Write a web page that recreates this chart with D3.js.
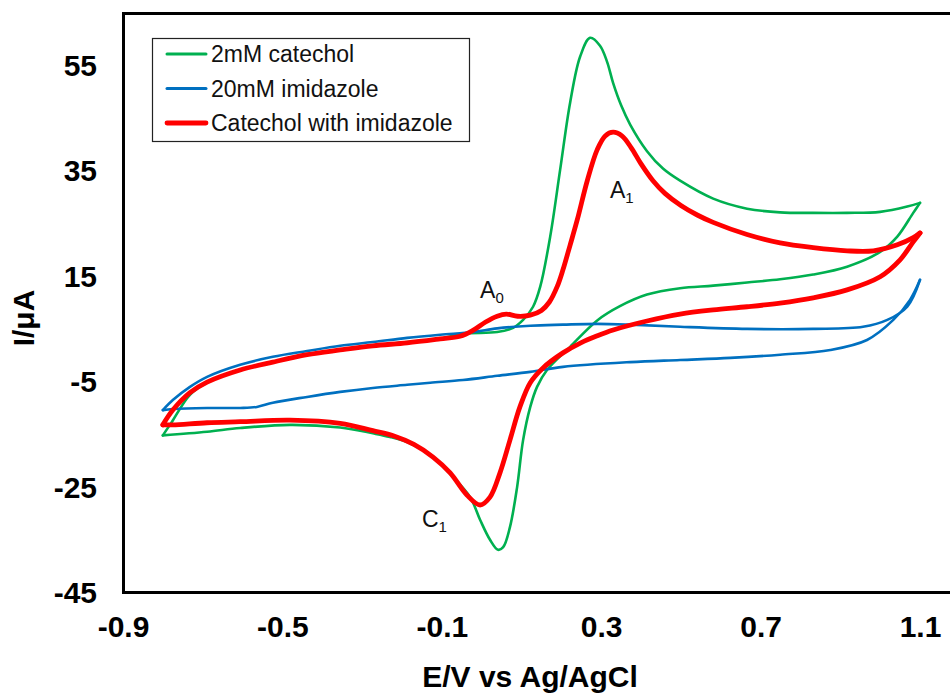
<!DOCTYPE html>
<html>
<head>
<meta charset="utf-8">
<style>
    body { margin: 0; background: #fff; }
    text { font-family: Arial, "Liberation Sans", sans-serif; }
    .tick text { font-weight: bold; font-size: 30px; fill: #000; }
    .lbl { font-size: 23px; fill: #111; }
</style>
</head>
<body>
<svg id="chart" width="950" height="695"></svg>
<script src="https://d3js.org/d3.v7.min.js"></script>
<script>
    // cyclic voltammograms, [E (V), I (uA)], split at the switching potentials
    var catecholFwd = [
        [-0.80, -15.3], [-0.777, -12.7], [-0.732, -7.6], [-0.689, -5.3], [-0.606, -2.9], [-0.524, -1.4],
        [-0.438, 0.0], [-0.355, 0.9], [-0.273, 1.7], [-0.187, 2.4], [-0.104, 3.0], [-0.047, 4.0],
        [0.039, 4.3], [0.079, 5.1], [0.104, 6.6], [0.129, 9.1], [0.147, 12.9], [0.172, 22.4],
        [0.197, 35.1], [0.222, 47.8], [0.247, 56.5], [0.272, 60.1], [0.297, 58.6], [0.315, 55.5],
        [0.330, 51.5], [0.350, 47.3], [0.373, 43.6], [0.415, 38.6], [0.455, 35.3], [0.498, 33.0],
        [0.581, 29.6], [0.666, 27.7], [0.749, 27.0], [0.832, 26.9], [0.917, 26.9], [1.000, 27.1],
        [1.068, 28.1], [1.10, 28.8]
    ];
    var catecholRev = [
        [1.10, 28.8], [1.083, 26.9], [1.043, 22.4], [1.000, 19.5], [0.917, 16.7], [0.832, 15.2],
        [0.749, 14.3], [0.666, 13.7], [0.581, 13.1], [0.498, 12.6], [0.415, 11.4], [0.347, 9.2],
        [0.290, 6.5], [0.222, 1.5], [0.164, -2.9], [0.139, -6.1], [0.122, -9.9], [0.104, -16.2],
        [0.089, -25.1], [0.071, -32.7], [0.054, -36.5], [0.041, -37.0], [0.021, -35.1], [-0.004, -31.3],
        [-0.029, -27.0], [-0.079, -22.6], [-0.129, -19.0], [-0.180, -16.8], [-0.230, -15.6],
        [-0.273, -14.9], [-0.355, -13.8], [-0.481, -13.3], [-0.606, -13.9], [-0.689, -14.6], [-0.80, -15.3]
    ];
    var imidazoleFwd = [
        [-0.80, -10.5], [-0.775, -8.6], [-0.732, -6.1], [-0.689, -4.2], [-0.606, -1.9], [-0.524, -0.4],
        [-0.438, 0.7], [-0.355, 1.7], [-0.273, 2.4], [-0.187, 3.2], [-0.104, 3.8], [-0.022, 4.3],
        [0.039, 5.0], [0.122, 5.5], [0.204, 5.7], [0.290, 5.85], [0.373, 5.7], [0.498, 5.3],
        [0.666, 4.9], [0.832, 4.9], [0.957, 5.3], [1.018, 6.6], [1.068, 9.1], [1.10, 14.2]
    ];
    var imidazoleRev = [
        [1.10, 14.2], [1.075, 10.4], [1.033, 6.6], [0.967, 2.8], [0.875, 0.9], [0.749, 0.0],
        [0.624, -0.6], [0.498, -1.0], [0.373, -1.4], [0.204, -2.3], [0.122, -3.25], [0.039, -4.0],
        [-0.047, -4.8], [-0.129, -5.3], [-0.187, -5.7], [-0.273, -6.3], [-0.355, -7.05], [-0.438, -8.0],
        [-0.524, -9.1], [-0.564, -9.9], [-0.606, -10.1], [-0.689, -10.1], [-0.775, -10.3], [-0.80, -10.5]
    ];
    var mixFwd = [
        [-0.80, -13.3], [-0.775, -10.5], [-0.732, -7.2], [-0.689, -5.2], [-0.606, -2.9], [-0.524, -1.4],
        [-0.438, 0.0], [-0.355, 0.9], [-0.273, 1.7], [-0.187, 2.25], [-0.104, 3.0], [-0.054, 3.5],
        [-0.022, 4.6], [0.010, 6.2], [0.039, 7.3], [0.062, 7.7], [0.090, 7.3], [0.122, 7.5],
        [0.150, 8.4], [0.170, 10.0], [0.190, 13.0], [0.204, 16.1], [0.222, 20.8], [0.240, 25.6],
        [0.265, 33.0], [0.290, 38.9], [0.310, 41.5], [0.330, 42.2], [0.352, 41.5], [0.375, 39.3],
        [0.400, 36.2], [0.430, 33.0], [0.460, 30.6], [0.500, 28.3], [0.541, 26.5], [0.581, 25.1],
        [0.666, 22.8], [0.749, 21.2], [0.832, 20.3], [0.917, 19.7], [0.983, 19.7], [1.043, 20.85],
        [1.083, 22.2], [1.10, 23.1]
    ];
    var mixRev = [
        [1.10, 23.1], [1.083, 21.4], [1.050, 18.0], [1.000, 14.8], [0.917, 12.3], [0.832, 10.8],
        [0.749, 9.8], [0.666, 9.1], [0.581, 8.5], [0.498, 7.7], [0.415, 6.4], [0.330, 4.7],
        [0.290, 3.6], [0.250, 2.3], [0.204, 0.35], [0.154, -2.5], [0.122, -5.3], [0.096, -9.9],
        [0.071, -16.2], [0.046, -22.4], [0.021, -27.0], [-0.004, -28.5], [-0.037, -26.6],
        [-0.079, -22.4], [-0.122, -19.4], [-0.170, -17.0], [-0.220, -15.4], [-0.273, -14.4],
        [-0.355, -13.0], [-0.481, -12.4], [-0.606, -12.7], [-0.689, -12.9], [-0.775, -13.3], [-0.80, -13.3]
    ];

    var xTicks = [-0.9, -0.5, -0.1, 0.3, 0.7, 1.1];
    var yTicks = [-45, -25, -5, 15, 35, 55];

    var seriesNames = ["2mM catechol", "20mM imidazole", "Catechol with imidazole"];
    var seriesColors = ["#00b050", "#0070c0", "#ff0000"];
    var seriesWidths = [2.6, 2.6, 4.8];
    var seriesData = [[catecholFwd, catecholRev], [imidazoleFwd, imidazoleRev], [mixFwd, mixRev]];

    var peakLabels = [
        { main: "A", sub: "1", x: 0.322, y: 29.8 },
        { main: "A", sub: "0", x: -0.004, y: 10.8 },
        { main: "C", sub: "1", x: -0.150, y: -32.7 }
    ];

    var svg = d3.select("#chart");

    var x = d3.scaleLinear().domain([-0.9, 1.1]).range([123, 920]);
    var y = d3.scaleLinear().domain([-45, 65]).range([592, 12]);

    var line = d3.line()
        .x(function (d) { return x(d[0]); })
        .y(function (d) { return y(d[1]); })
        .curve(d3.curveCatmullRom.alpha(0.5));

    // plot frame (right side runs off the picture)
    svg.append("rect")
        .attr("x", 123.5).attr("y", 13.5)
        .attr("width", 900).attr("height", 579)
        .attr("fill", "none")
        .attr("stroke", "#000")
        .attr("stroke-width", 3);

    // axes, no tick marks
    var xAxis = svg.append("g")
        .attr("transform", "translate(0,592)")
        .call(d3.axisBottom(x).tickValues(xTicks).tickSize(0).tickPadding(0)
            .tickFormat(function (d) { return d.toFixed(1); }));
    xAxis.select(".domain").remove();
    xAxis.selectAll("text").attr("dy", null).attr("y", 45);

    var yAxis = svg.append("g")
        .attr("transform", "translate(97,0)")
        .call(d3.axisLeft(y).tickValues(yTicks).tickSize(0).tickPadding(0)
            .tickFormat(function (d) { return String(d); }));
    yAxis.select(".domain").remove();
    yAxis.selectAll("text").attr("dy", "0.36em");

    // curves
    seriesData.forEach(function (s, i) {
        svg.append("g")
            .selectAll("path")
            .data(s)
            .enter().append("path")
            .attr("d", line)
            .attr("fill", "none")
            .attr("stroke", seriesColors[i])
            .attr("stroke-width", seriesWidths[i])
            .attr("stroke-linejoin", "round")
            .attr("stroke-linecap", "round");
    });

    // peak labels
    var pl = svg.append("g").selectAll("text")
        .data(peakLabels)
        .enter().append("text")
        .attr("class", "lbl")
        .attr("x", function (d) { return x(d.x); })
        .attr("y", function (d) { return y(d.y); });
    pl.append("tspan").text(function (d) { return d.main; });
    pl.append("tspan").attr("dy", 5).style("font-size", "15px").text(function (d) { return d.sub; });

    // legend
    var legend = svg.append("g");
    legend.append("rect")
        .attr("x", 152.5).attr("y", 38.5)
        .attr("width", 317).attr("height", 103)
        .attr("fill", "#fff")
        .attr("stroke", "#222")
        .attr("stroke-width", 1.2);
    seriesNames.forEach(function (name, i) {
        var ly = 54 + i * 34.5;
        legend.append("line")
            .attr("x1", 167).attr("x2", 206)
            .attr("y1", ly).attr("y2", ly)
            .attr("stroke", seriesColors[i])
            .attr("stroke-width", i === 2 ? 4.8 : 3)
            .attr("stroke-linecap", "round");
        legend.append("text")
            .attr("class", "lbl")
            .attr("x", 211).attr("y", ly)
            .attr("dy", "0.36em")
            .text(name);
    });

    // axis titles
    svg.append("text")
        .attr("x", 530).attr("y", 687)
        .attr("text-anchor", "middle")
        .style("font-weight", "bold").style("font-size", "30px")
        .text("E/V vs Ag/AgCl");

    svg.append("text")
        .attr("transform", "translate(34,318) rotate(-90)")
        .attr("text-anchor", "middle")
        .style("font-weight", "bold").style("font-size", "30px")
        .text("I/μA");
</script>
</body>
</html>
